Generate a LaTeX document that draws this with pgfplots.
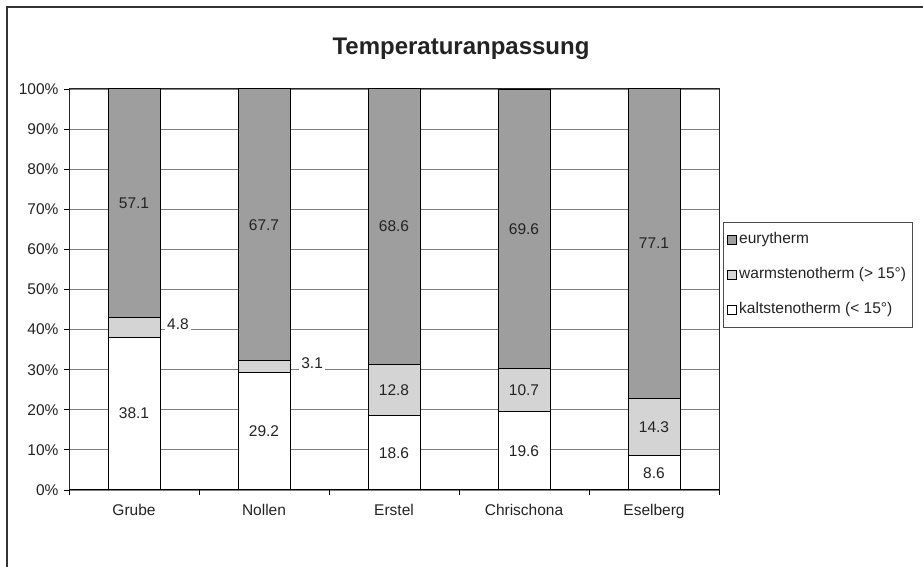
\documentclass[border=0pt]{standalone}
\usepackage{fontspec}
\setmainfont{Liberation Sans}
\usepackage{pgfplots}
\usepackage{pgfplotstable}
\pgfplotsset{compat=1.18}
\definecolor{eury}{RGB}{158,158,158}
\definecolor{warm}{RGB}{212,212,212}
\definecolor{gridc}{RGB}{125,125,125}
\definecolor{txt}{RGB}{35,35,35}
\newcommand\fnt{\fontsize{15.5bp}{18bp}\selectfont}

\pgfplotstableread{
x kalt warm eury
0 38.1 4.8 57.1
1 29.2 3.1 67.7
2 18.6 12.8 68.6
3 19.6 10.7 69.6
4 8.6 14.3 77.1
}\data

\pgfplotstableread{
x y lab
0 19.05 38.1
1 14.6 29.2
2 9.3 18.6
3 9.8 19.6
4 4.3 8.6
2 25.0 12.8
3 24.95 10.7
4 15.75 14.3
0 71.45 57.1
1 66.15 67.7
2 65.7 68.6
3 65.1 69.6
4 61.45 77.1
}\labin

\pgfplotstableread{
x y lab
0.338 41.4 4.8
1.37 31.7 3.1
}\labout

\begin{document}
\begin{tikzpicture}[x=1bp,y=1bp]
\path[use as bounding box] (0,0) rectangle (923,567);
\draw[line width=1.6bp, color=black!80] (7,0) -- (7,560) -- (923,560);
\node[anchor=base, font=\bfseries\fontsize{24bp}{28bp}\selectfont, text=txt] at (461,512) {Temperaturanpassung};

\begin{axis}[
  at={(69bp,77bp)}, anchor=south west, scale only axis,
  width=650bp, height=401bp,
  ybar stacked, bar width=0.4,
  xmin=-0.5, xmax=4.5, ymin=0, ymax=100,
  xtick={0,...,4}, xticklabels={Grube,Nollen,Erstel,Chrischona,Eselberg},
  minor xtick={-0.5,0.5,...,4.5},
  major x tick style={draw=none},
  ytick={0,10,...,100},
  yticklabels={0\%,10\%,20\%,30\%,40\%,50\%,60\%,70\%,80\%,90\%,100\%},
  tick align=outside, xtick pos=bottom, ytick pos=left,
  major tick length=5bp, minor tick length=5bp,
  tick style={black, line width=0.8bp},
  ymajorgrids, grid style={gridc, line width=0.8bp},
  axis line style={black!85, line width=1bp},
  ticklabel style={font=\fnt, text=txt},
  yticklabel style={xshift=-2bp},
  xticklabel style={yshift=-6bp},
  reverse legend,
  legend cell align=left,
  legend style={at={(1.0062,0.668)}, anchor=north west, draw=black!70, line width=0.8bp,
    font=\fnt, text=txt, inner xsep=4bp, inner ysep=8bp, row sep=16.5bp,
    nodes={inner sep=2bp, text height=11bp, text depth=3.5bp}},
  legend image code/.code={\draw[#1, line width=0.8bp] (0bp,-4.5bp) rectangle (9bp,4.5bp);},
]
\addplot[fill=white, draw=black, line width=1bp] table[x=x, y=kalt] {\data};
\addlegendentry{kaltstenotherm (< 15°)}
\addplot[fill=warm, draw=black, line width=1bp] table[x=x, y=warm] {\data};
\addlegendentry{warmstenotherm (> 15°)}
\addplot[fill=eury, draw=black, line width=1bp] table[x=x, y=eury] {\data};
\addlegendentry{eurytherm}
\draw[black, line width=1.6bp] (axis cs:-0.5,0) -- (axis cs:4.5,0);
\end{axis}

\begin{axis}[
  at={(69bp,77bp)}, anchor=south west, scale only axis,
  width=650bp, height=401bp,
  xmin=-0.5, xmax=4.5, ymin=0, ymax=100, hide axis, clip=false]
\addplot[draw=none, mark=none, nodes near coords, point meta=explicit symbolic,
  nodes near coords style={anchor=center, font=\fnt, text=txt}]
  table[x=x, y=y, meta=lab] {\labin};
\addplot[draw=none, mark=none, nodes near coords, point meta=explicit symbolic,
  nodes near coords style={anchor=center, font=\fnt, text=txt, fill=white, inner sep=2bp}]
  table[x=x, y=y, meta=lab] {\labout};
\end{axis}
\end{tikzpicture}
\end{document}
